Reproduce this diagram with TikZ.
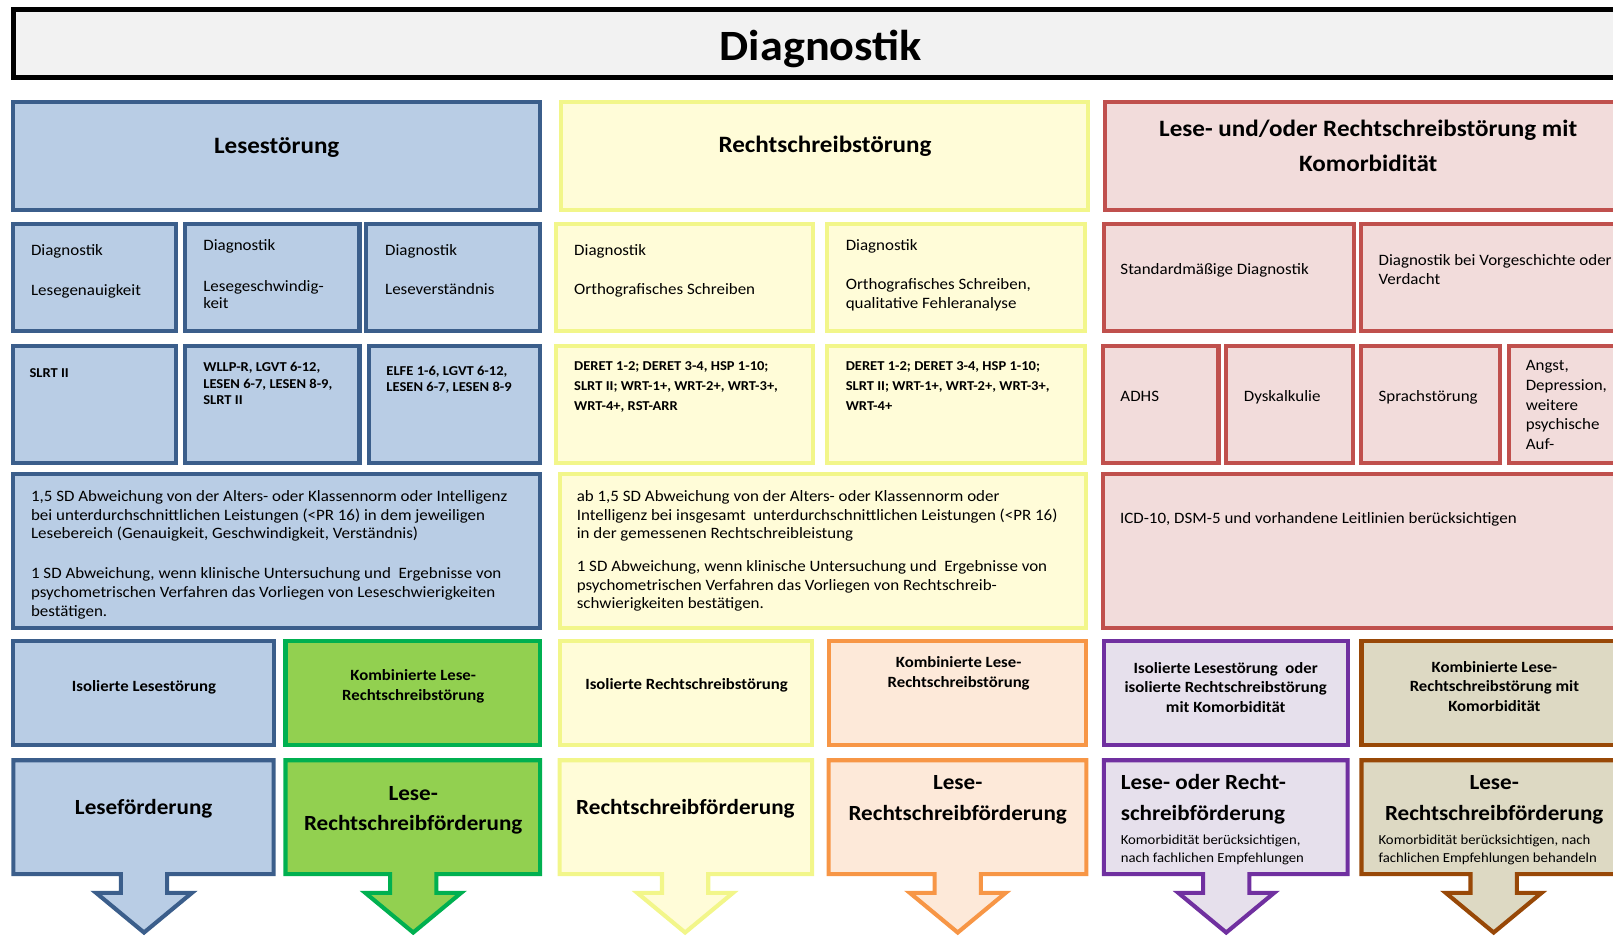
\documentclass[tikz,border=0pt]{standalone}
\usepackage{fontspec}
\setmainfont{Carlito}[FakeStretch=1.07]
\definecolor{blF}{HTML}{B9CDE5}\definecolor{blD}{HTML}{3B5E8B}
\definecolor{yeF}{HTML}{FFFCD8}\definecolor{yeD}{HTML}{F2F68A}
\definecolor{reF}{HTML}{F2DCDB}\definecolor{reD}{HTML}{C0504D}
\definecolor{grF}{HTML}{92D050}\definecolor{grD}{HTML}{00B050}
\definecolor{orF}{HTML}{FDE9D9}\definecolor{orD}{HTML}{F79646}
\definecolor{puF}{HTML}{E6E0EC}\definecolor{puD}{HTML}{7030A0}
\definecolor{brF}{HTML}{DDD9C3}\definecolor{brD}{HTML}{984807}
\definecolor{tiF}{HTML}{F2F2F2}
\newcommand\fsz[1]{\fontsize{#1}{#1}\selectfont}
\newcommand\bx[5]{\draw[#1] ({#2+2},{#3+2}) rectangle ({#4-2},{#5-2});}
\newcommand\abx[4]{\draw[#1] ({#2+2},739) -- ({#3-2},739) -- ({#3-2},849.7) -- ({#4+22.5},849.7) -- ({#4+22.5},868) -- ({#4+46.5},868) -- (#4,906.5) -- ({#4-46.5},868) -- ({#4-22.5},868) -- ({#4-22.5},849.7) -- ({#2+2},849.7) -- cycle;}
\newcommand\tlines[6]{\foreach \l [count=\i from 0] in {#6} \node[#5] (#1-\i) at (#2,{#3+\i*#4}) {\l};}
\begin{document}
\begin{tikzpicture}[x=1pt,y=-1pt,
  bl/.style={draw=blD,fill=blF,line width=4pt},
  ye/.style={draw=yeD,fill=yeF,line width=4pt},
  re/.style={draw=reD,fill=reF,line width=4pt},
  gr/.style={draw=grD,fill=grF,line width=4pt},
  or/.style={draw=orD,fill=orF,line width=4pt},
  pu/.style={draw=puD,fill=puF,line width=4pt},
  br/.style={draw=brD,fill=brF,line width=4pt},
  tw/.style={anchor=mid west,inner sep=0pt,text=black},
  tc/.style={anchor=mid,inner sep=0pt,text=black},
  sm/.style={tw,font=\fsz{15.4},yshift=-4.2pt},
  sb/.style={tw,font=\fsz{13.2}\bfseries,yshift=-3.6pt},
  mb/.style={tc,font=\fsz{15.2}\bfseries,yshift=-4.1pt},
  hb/.style={tc,font=\fsz{22.8}\bfseries,yshift=-5.5pt},
  bb/.style={tc,font=\fsz{21}\bfseries,yshift=-5.8pt},
  bbl/.style={tw,font=\fsz{21}\bfseries,yshift=-5.8pt},
  ts/.style={tw,font=\fsz{13.4},yshift=-3.7pt}]
\useasboundingbox (0,0) rectangle (1568,911);
\clip (0,0) rectangle (1568,911);
% title
\draw[draw=black,fill=tiF,line width=5pt] (13.5,9.5) rectangle (1600,75.5);
\node[tc,font=\fsz{42}\bfseries,yshift=-11.5pt] (title) at (798,45) {Diagnostik};
% row 1
\bx{bl}{11}{97}{527}{206}
\bx{ye}{543}{97}{1060}{206}
\bx{re}{1072}{97}{1610}{206}
\node[hb] (h1) at (269,141) {Lesestörung};
\node[hb] (h2) at (802,140) {Rechtschreibstörung};
\tlines{h3}{1330}{124.5}{34}{hb}{{Lese- und/oder Rechtschreibstörung mit},{Komorbidität}}
% row 2
\bx{bl}{11}{215.5}{173}{323.5}
\bx{bl}{177.5}{215.5}{351.5}{323.5}
\bx{bl}{354}{215.5}{527}{323.5}
\bx{ye}{538.5}{215.5}{792.5}{323.5}
\bx{ye}{802}{215.5}{1057}{323.5}
\bx{re}{1071}{215.5}{1318}{323.5}
\bx{re}{1321}{215.5}{1610}{323.5}
\tlines{a1}{30}{241.5}{38.8}{sm}{Diagnostik,Lesegenauigkeit}
\node[sm] (a2) at (197.5,236.6) {Diagnostik};
\tlines{a2b}{197.5}{277}{16.3}{sm}{Lesegeschwindig-,keit}
\tlines{a3}{374.2}{241.4}{37.9}{sm}{Diagnostik,Leseverständnis}
\tlines{a4}{558}{241.4}{37.9}{sm}{Diagnostik,Orthografisches Schreiben}
\node[sm] (a5) at (822,236.6) {Diagnostik};
\tlines{a5b}{822}{274.5}{18.7}{sm}{{Orthografisches Schreiben,},qualitative Fehleranalyse}
\node[sm] (a6) at (1089,260.5) {Standardmäßige Diagnostik};
\tlines{a7}{1340}{251.5}{18.8}{sm}{Diagnostik bei Vorgeschichte oder,Verdacht}
% row 3
\bx{bl}{11}{334.5}{173}{452}
\bx{bl}{178}{334.5}{351.5}{452}
\bx{bl}{356.5}{334.5}{527}{452}
\bx{ye}{538.5}{334.5}{792.5}{452}
\bx{ye}{802}{334.5}{1057}{452}
\bx{re}{1070}{334.5}{1186.5}{452}
\bx{re}{1190}{334.5}{1317}{452}
\bx{re}{1321}{334.5}{1460.5}{452}
\bx{re}{1465}{334.5}{1610}{452}
\node[sb] (b1) at (28.5,361) {SLRT II};
\tlines{b2}{197.5}{355}{16.2}{sb}{{WLLP-R, LGVT 6-12,},{LESEN 6-7, LESEN 8-9,},SLRT II}
\tlines{b3}{375.5}{359.5}{15.5}{sb}{{ELFE 1-6, LGVT 6-12,},{LESEN 6-7, LESEN 8-9}}
\tlines{b4}{558}{353.8}{19.4}{sb}{{DERET 1-2; DERET 3-4, HSP 1-10;},{SLRT II; WRT-1+, WRT-2+, WRT-3+,},{WRT-4+, RST-ARR}}
\tlines{b5}{822}{353.8}{19.4}{sb}{{DERET 1-2; DERET 3-4, HSP 1-10;},{SLRT II; WRT-1+, WRT-2+, WRT-3+,},{WRT-4+}}
\node[sm] (b6) at (1089,383.5) {ADHS};
\node[sm] (b7) at (1209,383.5) {Dyskalkulie};
\node[sm] (b8) at (1340,383.5) {Sprachstörung};
\tlines{b9}{1483}{354}{19}{sm}{{Angst,},{Depression,},weitere,psychische,Auf-}
% row 4
\bx{bl}{11}{458.5}{527}{612.5}
\bx{ye}{542}{458.5}{1058}{612.5}
\bx{re}{1070}{458.5}{1610}{612.5}
\tlines{c1}{30}{481}{18}{sm}{{1,5 SD Abweichung von der Alters- oder Klassennorm oder Intelligenz},{bei unterdurchschnittlichen Leistungen (<PR 16) in dem jeweiligen},{Lesebereich (Genauigkeit, Geschwindigkeit, Verständnis)}}
\tlines{c2}{30}{556}{18.5}{sm}{{1 SD Abweichung, wenn klinische Untersuchung und\ \ Ergebnisse von},{psychometrischen Verfahren das Vorliegen von Leseschwierigkeiten},{bestätigen.}}
\tlines{c3}{560.5}{481}{18}{sm}{{ab 1,5 SD Abweichung von der Alters- oder Klassennorm oder},{Intelligenz bei insgesamt\ \ unterdurchschnittlichen Leistungen (<PR 16)},{in der gemessenen Rechtschreibleistung}}
\tlines{c4}{560.5}{549}{18}{sm}{{1 SD Abweichung, wenn klinische Untersuchung und\ \ Ergebnisse von},{psychometrischen Verfahren das Vorliegen von Rechtschreib-},{schwierigkeiten bestätigen.}}
\node[sm] (c5) at (1088.6,502) {ICD-10, DSM-5 und vorhandene Leitlinien berücksichtigen};
% row 5
\bx{bl}{11}{621.5}{268}{726.5}
\bx{gr}{275.5}{621.5}{527}{726.5}
\bx{ye}{542}{621.5}{791.5}{726.5}
\bx{or}{803.5}{621.5}{1058}{726.5}
\bx{pu}{1071}{621.5}{1312}{726.5}
\bx{br}{1321.5}{621.5}{1610}{726.5}
\node[mb] (d1) at (140,665.5) {Isolierte Lesestörung};
\tlines{d2}{401.7}{655}{19.5}{mb}{Kombinierte Lese-,Rechtschreibstörung}
\node[mb] (d3) at (667.4,664.2) {Isolierte Rechtschreibstörung};
\tlines{d4}{931.9}{642.2}{19.5}{mb}{Kombinierte Lese-,Rechtschreibstörung}
\tlines{d5}{1191.5}{648}{19}{mb}{{Isolierte Lesestörung\ \ oder},isolierte Rechtschreibstörung,mit Komorbidität}
\tlines{d6}{1452.7}{647}{19}{mb}{Kombinierte Lese-,Rechtschreibstörung mit,Komorbidität}
% row 6
\abx{bl}{11}{268}{140}
\abx{gr}{275.5}{527}{401.7}
\abx{ye}{542}{791.5}{666}
\abx{or}{803.5}{1058}{931}
\abx{pu}{1071}{1312}{1192}
\abx{br}{1321.5}{1610}{1452}
\node[bb] (e1) at (139.7,784) {Leseförderung};
\tlines{e2}{401.7}{769.5}{29.2}{bb}{Lese-,Rechtschreibförderung}
\node[bb] (e3) at (666.3,783.4) {Rechtschreibförderung};
\tlines{e4}{931}{759}{30}{bb}{Lese-,Rechtschreibförderung}
\tlines{e5}{1089.3}{759}{30}{bbl}{Lese- oder Recht-,schreibförderung}
\tlines{e6}{1089.3}{815}{17.8}{ts}{{Komorbidität berücksichtigen,},nach fachlichen Empfehlungen}
\tlines{e7}{1452.5}{759}{30}{bb}{Lese-,Rechtschreibförderung}
\tlines{e8}{1339.9}{815}{17.8}{ts}{{Komorbidität berücksichtigen, nach},fachlichen Empfehlungen behandeln}
\end{tikzpicture}
\end{document}
